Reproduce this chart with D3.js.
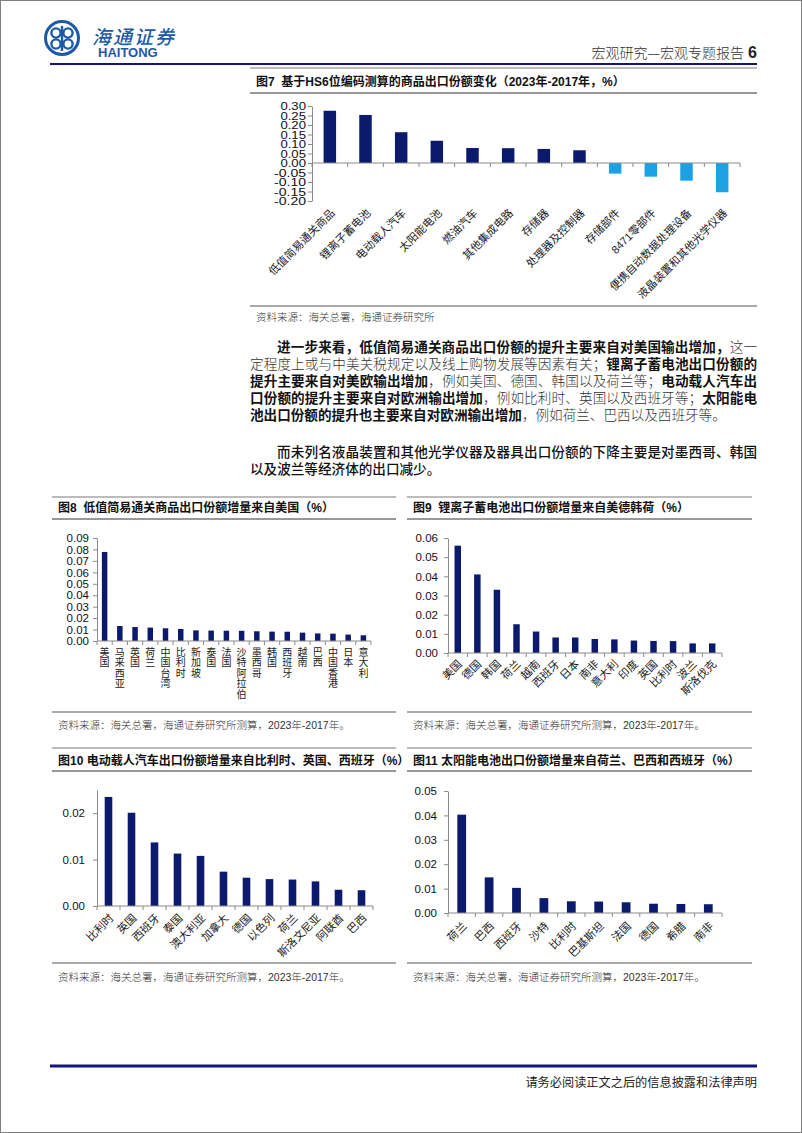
<!DOCTYPE html>
<html><head><meta charset="utf-8">
<script src="https://cdn.jsdelivr.net/npm/d3@7"></script>
<style>
html,body{margin:0;padding:0;background:#fff;}
svg{display:block;}
</style></head><body>
<svg id="page" width="802" height="1133"></svg>
<script>
// ---------- DATA ----------
const fig7Categories = ["低值简易通关商品","锂离子蓄电池","电动载人汽车","太阳能电池","燃油汽车","其他集成电路","存储器","处理器及控制器","存储部件","8471零部件","便携自动数据处理设备","液晶装置和其他光学仪器"];
const fig7Values = [0.275,0.253,0.162,0.117,0.079,0.078,0.074,0.067,-0.056,-0.072,-0.093,-0.154];
const fig7Ticks = [0.30,0.25,0.20,0.15,0.10,0.05,0.00,-0.05,-0.10,-0.15,-0.20];
const fig7TickLabels = ["0.30","0.25","0.20","0.15","0.10","0.05","0.00","-0.05","-0.10","-0.15","-0.20"];

const fig8Categories = ["美国","马来西亚","英国","荷兰","中国台湾","比利时","新加坡","泰国","法国","沙特阿拉伯","墨西哥","韩国","西班牙","越南","巴西","中国香港","日本","意大利"];
const fig8Values = [0.0778,0.0131,0.0122,0.0117,0.0111,0.0105,0.0093,0.0091,0.0090,0.0089,0.0085,0.0082,0.0081,0.0073,0.0066,0.0064,0.0056,0.0050];
const fig8Ticks = [0,0.01,0.02,0.03,0.04,0.05,0.06,0.07,0.08,0.09];
const fig8TickLabels = ["0.00","0.01","0.02","0.03","0.04","0.05","0.06","0.07","0.08","0.09"];

const fig9Categories = ["美国","德国","韩国","荷兰","越南","西班牙","日本","南非","意大利","印度","英国","比利时","波兰","斯洛伐克"];
const fig9Values = [0.056,0.041,0.033,0.0150,0.0112,0.0081,0.0081,0.0073,0.0071,0.0065,0.0063,0.0062,0.0050,0.0050];
const fig9Ticks = [0,0.01,0.02,0.03,0.04,0.05,0.06];
const fig9TickLabels = ["0.00","0.01","0.02","0.03","0.04","0.05","0.06"];

const fig10Categories = ["比利时","英国","西班牙","泰国","澳大利亚","加拿大","德国","以色列","荷兰","斯洛文尼亚","阿联酋","巴西"];
const fig10Values = [0.0235,0.0201,0.0137,0.0113,0.0108,0.0074,0.0061,0.0058,0.0057,0.0053,0.0035,0.0034];
const fig10Ticks = [0,0.01,0.02];
const fig10TickLabels = ["0.00","0.01","0.02"];

const fig11Categories = ["荷兰","巴西","西班牙","沙特","比利时","巴基斯坦","法国","德国","希腊","南非"];
const fig11Values = [0.0403,0.0146,0.0103,0.0061,0.0048,0.0047,0.0044,0.0038,0.0037,0.0036];
const fig11Ticks = [0,0.01,0.02,0.03,0.04,0.05];
const fig11TickLabels = ["0.00","0.01","0.02","0.03","0.04","0.05"];

// ---------- STYLE ----------
const svg = d3.select('#page');
const NAVY = '#0b1a6c', LIGHT = '#1da1e4', AXIS = '#8a8a8a', BRAND = '#1d5aa6';
const CJK = "'Noto Sans CJK SC','Noto Sans',sans-serif";
const MIX = "'Liberation Sans','Noto Sans CJK SC',sans-serif";

svg.append('rect').attr('x',0.5).attr('y',0.5).attr('width',801).attr('height',1132)
  .attr('fill','#fff').attr('stroke','#808080');

// ---------- HEADER ----------
const logo = svg.append('g').attr('transform','translate(62,38)');
logo.append('circle').attr('r',16.5).attr('fill','none').attr('stroke',BRAND).attr('stroke-width',3);
[[-6,-5],[6,-5],[-6,6],[6,6]].forEach(([cx,cy])=>{
  logo.append('circle').attr('cx',cx).attr('cy',cy).attr('r',4.6).attr('fill','none').attr('stroke',BRAND).attr('stroke-width',2.4);
});
logo.append('line').attr('x1',0).attr('x2',0).attr('y1',-12).attr('y2',13).attr('stroke',BRAND).attr('stroke-width',2.4);
svg.append('text').attr('x',92).attr('y',44).attr('font-family',CJK).attr('font-size',19)
  .attr('font-style','italic').attr('font-weight',500).attr('fill',BRAND).attr('letter-spacing',2).text('海通证券');
svg.append('text').attr('x',98).attr('y',57).attr('font-family',"'Liberation Sans',Arial,sans-serif").attr('font-size',13)
  .attr('font-weight',700).attr('fill',BRAND).text('HAITONG');
svg.append('text').attr('x',744).attr('y',58).attr('text-anchor','end').attr('font-family',CJK)
  .attr('font-size',14).attr('font-weight',300).attr('fill','#333').text('宏观研究—宏观专题报告');
svg.append('text').attr('x',757).attr('y',58).attr('text-anchor','end').attr('font-family',"'Liberation Sans',Arial,sans-serif")
  .attr('font-size',16).attr('font-weight',700).attr('fill','#222').text('6');
svg.append('line').attr('x1',50).attr('x2',757).attr('y1',64).attr('y2',64).attr('stroke','#14147a').attr('stroke-width',2);

// footer
svg.append('line').attr('x1',50).attr('x2',757).attr('y1',1066).attr('y2',1066).attr('stroke','#14147a').attr('stroke-width',3);
svg.append('text').attr('x',757).attr('y',1087).attr('text-anchor','end').attr('font-family',CJK)
  .attr('font-size',12.2).attr('font-weight',400).attr('fill','#222').text('请务必阅读正文之后的信息披露和法律声明');

// ---------- FIGURE FRAMES ----------
function frame(x0,x1,yTop,yUnder,yBot,title,tY,source,sY){
  svg.append('line').attr('x1',x0).attr('x2',x1).attr('y1',yTop).attr('y2',yTop).attr('stroke','#a6a6a6').attr('stroke-width',1.5);
  svg.append('line').attr('x1',x0).attr('x2',x1).attr('y1',yUnder).attr('y2',yUnder).attr('stroke','#333').attr('stroke-width',1.2);
  svg.append('line').attr('x1',x0).attr('x2',x1).attr('y1',yBot).attr('y2',yBot).attr('stroke','#555').attr('stroke-width',1.2);
  svg.append('text').attr('x',x0+6).attr('y',tY).attr('font-family',MIX).attr('font-size',12)
    .attr('font-weight',700).attr('fill','#111').attr('xml:space','preserve').text(title);
  svg.append('text').attr('x',x0+6).attr('y',sY).attr('font-family',MIX).attr('font-size',10.5)
    .attr('font-weight',300).attr('fill','#333').text(source);
}
const SRC = '资料来源：海关总署，海通证券研究所测算，2023年-2017年。';
frame(250,757,68,93,306,'图7  基于HS6位编码测算的商品出口份额变化（2023年-2017年，%）',86,'资料来源：海关总署，海通证券研究所',321);
frame(52,396,497,519,712,'图8  低值简易通关商品出口份额增量来自美国（%）',512,SRC,729);
frame(407,752,497,519,712,'图9  锂离子蓄电池出口份额增量来自美德韩荷（%）',512,SRC,729);
frame(52,396,748,771,963,'图10 电动载人汽车出口份额增量来自比利时、英国、西班牙（%）',765,SRC,981);
frame(407,752,748,771,963,'图11 太阳能电池出口份额增量来自荷兰、巴西和西班牙（%）',765,SRC,981);

// ---------- BODY TEXT ----------
function line(x,y,segs,width,size){
  const t = svg.append('text').attr('x',x).attr('y',y).attr('font-family',CJK).attr('font-size',size||13.6);
  segs.forEach(([s,w])=>t.append('tspan').text(s).attr('font-weight',w).attr('fill',w>=500?'#111':'#333'));
  if(width) t.attr('textLength',width).attr('lengthAdjust','spacing');
}
line(277,352,[['进一步来看，低值简易通关商品出口份额的提升主要来自对美国输出增加，',700],['这一',300]],480);
line(250,369,[['定程度上或与中美关税规定以及线上购物发展等因素有关；',300],['锂离子蓄电池出口份额的',700]],507);
line(250,386,[['提升主要来自对美欧输出增加',700],['，例如美国、德国、韩国以及荷兰等；',300],['电动载人汽车出',700]],507);
line(250,403,[['口份额的提升主要来自对欧洲输出增加',700],['，例如比利时、英国以及西班牙等；',300],['太阳能电',700]],507);
line(250,420,[['池出口份额的提升也主要来自对欧洲输出增加',700],['，例如荷兰、巴西以及西班牙等。',300]],null);
line(277,457,[['而未列名液晶装置和其他光学仪器及器具出口份额的下降主要是对墨西哥、韩国',500]],480);
line(250,474,[['以及波兰等经济体的出口减少。',500]],null);

// ---------- CHARTS ----------
function barChart(c){
  const n = c.cats.length;
  const x = d3.scaleBand().domain(c.cats).range([c.x0,c.x1]).paddingInner(c.pad).paddingOuter(c.pad/2);
  const y = d3.scaleLinear().domain(c.domain).range([c.yBot,c.yTop]);
  const g = svg.append('g');
  const yz = y(0);
  g.selectAll('rect').data(c.vals).join('rect')
    .attr('x',(d,i)=>x(c.cats[i])).attr('width',x.bandwidth())
    .attr('y',d=>y(Math.max(0,d))).attr('height',d=>Math.abs(y(d)-yz))
    .attr('fill',d=>d<0?LIGHT:NAVY);
  const ax = g.append('g').attr('transform',`translate(${c.x0},0)`)
    .call(d3.axisLeft(y).tickValues(c.ticks).tickFormat((d,i)=>c.tickLabels[i]).tickSize(4).tickSizeOuter(0).tickPadding(c.tickPad||3));
  ax.select('.domain').attr('stroke',AXIS);
  ax.selectAll('.tick line').attr('stroke',AXIS);
  const tt = ax.selectAll('.tick text').attr('font-family',"'Liberation Sans',Arial,sans-serif").attr('font-size',c.tickFont).attr('fill','#111');
  if(c.tickStretch) tt.attr('textLength',(d,i)=>c.tickLabels[i].length*c.tickStretch).attr('lengthAdjust','spacingAndGlyphs');
  g.append('line').attr('x1',c.x0).attr('x2',c.x1).attr('y1',yz).attr('y2',yz).attr('stroke',AXIS);
  g.selectAll('line.bt').data(d3.range(n+1)).join('line').attr('class','bt')
    .attr('x1',i=>c.x0+i*x.step()).attr('x2',i=>c.x0+i*x.step())
    .attr('y1',yz).attr('y2',yz+4).attr('stroke',AXIS);
  if(c.vertical){
    c.cats.forEach(cat=>{
      const cx = x(cat)+x.bandwidth()/2;
      const t = g.append('text').attr('font-family',CJK).attr('font-size',c.labelFont).attr('fill','#222').attr('text-anchor','middle');
      [...cat].forEach((ch,k)=>t.append('tspan').attr('x',cx).attr('y',c.labelY+k*c.labelStep).text(ch));
    });
  } else {
    c.cats.forEach(cat=>{
      const cx = x(cat)+x.bandwidth()/2;
      g.append('text').attr('font-family',MIX).attr('font-size',c.labelFont).attr('fill','#222')
        .attr('text-anchor','end').attr('dy','0.35em')
        .attr('transform',`translate(${cx+c.labelDx},${c.labelY}) rotate(-45)`).text(cat);
    });
  }
}

barChart({cats:fig7Categories,vals:fig7Values,ticks:fig7Ticks,tickLabels:fig7TickLabels,
  x0:312,x1:740,yTop:106,yBot:201,domain:[-0.2,0.3],pad:0.65,tickFont:11,tickPad:2,tickStretch:6.4,
  labelFont:11,labelDx:3,labelY:211});
barChart({cats:fig8Categories,vals:fig8Values,ticks:fig8Ticks,tickLabels:fig8TickLabels,
  x0:97,x1:371,yTop:538,yBot:641,domain:[0,0.09],pad:0.64,tickFont:11.5,tickPad:4,
  vertical:true,labelFont:10,labelY:656,labelStep:10.4});
barChart({cats:fig9Categories,vals:fig9Values,ticks:fig9Ticks,tickLabels:fig9TickLabels,
  x0:448,x1:722,yTop:538,yBot:653,domain:[0,0.06],pad:0.67,tickFont:11.5,tickPad:6,
  labelFont:11,labelDx:2,labelY:662});
barChart({cats:fig10Categories,vals:fig10Values,ticks:fig10Ticks,tickLabels:fig10TickLabels,
  x0:97,x1:373,yTop:790,yBot:906,domain:[0,0.025],pad:0.67,tickFont:11.5,tickPad:8,
  labelFont:11,labelDx:3,labelY:916});
barChart({cats:fig11Categories,vals:fig11Values,ticks:fig11Ticks,tickLabels:fig11TickLabels,
  x0:448,x1:722,yTop:791,yBot:913,domain:[0,0.05],pad:0.68,tickFont:11.5,tickPad:7,
  labelFont:11,labelDx:3,labelY:924});
</script>
</body></html>
